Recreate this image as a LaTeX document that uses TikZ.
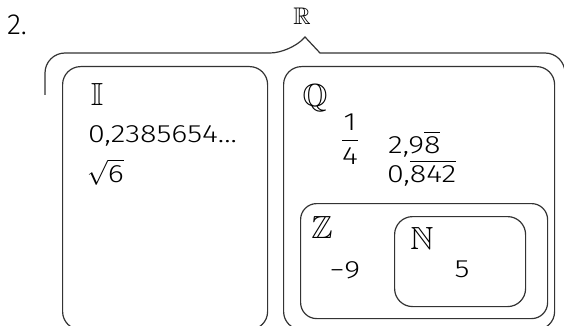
\documentclass[tikz,border=0pt]{standalone}
\usepackage{amsmath}
\usepackage{amssymb}
\usepackage{fontspec}
\setmainfont{Fira Sans}[UprightFont=* Light,FakeStretch=1.22]
\newfontfamily\numfont{Fira Sans}[UprightFont=* Light]
\newcommand{\ovl}[1]{$\overline{\hbox{#1}}$}
\begin{document}
\begin{tikzpicture}[x=1pt,y=-1pt,
  line/.style={draw=black!80,line width=1.2pt},
  setbox/.style={line,rounded corners=#1,inner sep=0pt,anchor=north west},
  lbl/.style={font=\fontsize{25}{28}\selectfont,inner sep=0pt},
  bb/.style={font=\fontsize{32}{34}\selectfont,inner sep=0pt}]
\useasboundingbox (0,0) rectangle (564,326);
\clip (0,0) rectangle (564,326);
% brace
\coordinate (bl) at (45,95);
\coordinate (br) at (565,95);
\coordinate (apex) at (305,37);
\draw[line,rounded corners=20pt] (bl) -- (45,53) -- (290,53) [sharp corners] -- (apex) -- (320,53) [rounded corners=20pt] -- (565,53) -- (br);
\node[inner sep=0pt,font=\numfont\fontsize{29}{30}\selectfont] (num) at (17,25) {2.};
\node[bb,font=\fontsize{24}{26}\selectfont] (R) at (302,16) {$\mathbb{R}$};
% boxes
\node[setbox=18pt,minimum width=205pt,minimum height=263pt] (I) at (62,66) {};
\node[setbox=18pt,minimum width=271pt,minimum height=263pt] (Q) at (283,66) {};
\node[setbox=16pt,minimum width=247pt,minimum height=115pt] (Z) at (300,203) {};
\node[setbox=18pt,minimum width=131pt,minimum height=90pt] (N) at (394,216) {};
% labels
\node[bb] (Il) at (97,94) {$\mathbb{I}$};
\node[lbl,anchor=west] (i1) at (88,136) {0,2385654...};
\node[lbl,anchor=west,text height=12pt,text depth=6pt] (i2) at (87,179) {$\sqrt{\hbox{6}}$};
\node[bb] (Ql) at (315,98) {$\mathbb{Q}$};
\node[lbl] (q1) at (350,139) {$\dfrac{\hbox{1}}{\hbox{4}}$};
\node[lbl,anchor=west] (q2) at (388,144) {2,9\ovl{8}};
\node[lbl,anchor=west] (q3) at (387,173) {0,\ovl{842}};
\node[bb] (Zl) at (322,227) {$\mathbb{Z}$};
\node[lbl] (z1) at (345,270) {−9};
\node[bb] (Nl) at (422,238) {$\mathbb{N}$};
\node[lbl] (n1) at (462,269) {5};
\end{tikzpicture}
\end{document}
